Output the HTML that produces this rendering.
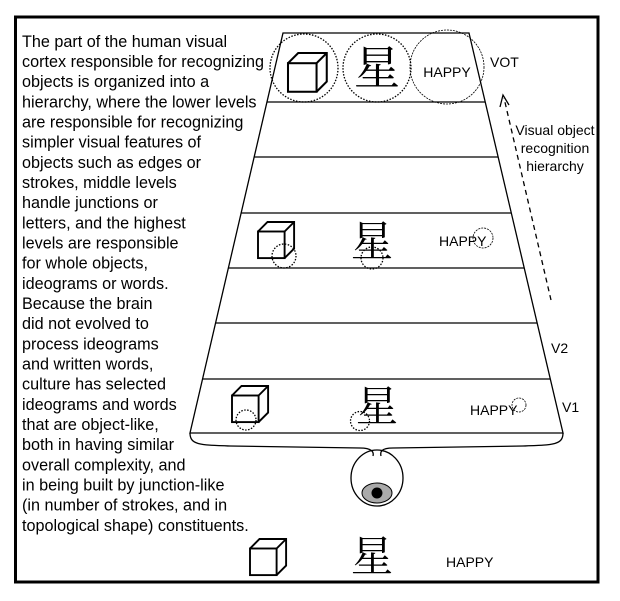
<!DOCTYPE html>
<html><head><meta charset="utf-8"><style>
html,body{margin:0;padding:0;background:#fff;}
svg{display:block;}
text{font-family:"Liberation Sans",Arial,sans-serif;fill:#000;}
.k{font-family:"Noto Serif CJK SC","Noto Sans CJK SC",serif;}
</style></head><body>
<svg width="620" height="601" viewBox="0 0 620 601" xmlns="http://www.w3.org/2000/svg">
<rect x="15.5" y="17" width="582.5" height="565" fill="none" stroke="#000" stroke-width="3"/>
<g font-size="16.2">
<text x="22" y="47">The part of the human visual</text>
<text x="22" y="67">cortex responsible for recognizing</text>
<text x="22" y="87">objects is organized into a</text>
<text x="22" y="107.5">hierarchy, where the lower levels</text>
<text x="22" y="127.5">are responsible for recognizing</text>
<text x="22" y="147.5">simpler visual features of</text>
<text x="22" y="168">objects such as edges or</text>
<text x="22" y="188">strokes, middle levels</text>
<text x="22" y="208">handle junctions or</text>
<text x="22" y="228.5">letters, and the highest</text>
<text x="22" y="248.5">levels are responsible</text>
<text x="22" y="268.5">for whole objects,</text>
<text x="22" y="289">ideograms or words.</text>
<text x="22" y="309">Because the brain</text>
<text x="22" y="329">did not evolved to</text>
<text x="22" y="349.5">process ideograms</text>
<text x="22" y="369.5">and written words,</text>
<text x="22" y="389.5">culture has selected</text>
<text x="22" y="410">ideograms and words</text>
<text x="22" y="430">that are object-like,</text>
<text x="22" y="450">both in having similar</text>
<text x="22" y="470.5">overall complexity, and</text>
<text x="22" y="490.5">in being built by junction-like</text>
<text x="22" y="510.5">(in number of strokes, and in</text>
<text x="22" y="531">topological shape) constituents.</text>
</g>
<g stroke="#000" fill="none" stroke-width="1.3">
<polygon points="283,33 469,33 563,433 190,433"/>
<line x1="266.8" y1="102" x2="485.2" y2="102"/>
<line x1="254" y1="157" x2="498.1" y2="157"/>
<line x1="240.8" y1="213" x2="511.3" y2="213"/>
<line x1="228" y1="268" x2="524.2" y2="268"/>
<line x1="215.2" y1="323" x2="537.1" y2="323"/>
<line x1="202" y1="379" x2="550.3" y2="379"/>
<path d="M190,433 C190,445 200,445 230,446 L360,448 C372,448 374,452 373,456"/>
<path d="M563,433 C563,445 553,445 523,446 L393,448 C381,448 380,452 381,456"/>
<ellipse cx="377" cy="478" rx="26" ry="28"/>
</g>
<ellipse cx="377" cy="493" rx="15" ry="10" fill="#aaa" stroke="#000" stroke-width="1"/>
<circle cx="377" cy="493" r="5.5" fill="#000"/>
<defs>
<g id="cube" fill="none" stroke="#000" stroke-width="2">
<rect x="0" y="10" width="28" height="28"/>
<polyline points="0,10 10,0 38,0 38,28 28,38"/>
<line x1="28" y1="10" x2="38" y2="0"/>
</g>
</defs>
<use href="#cube" transform="translate(288,53) scale(1.02)"/>
<g fill="none" stroke="#000" stroke-width="1.3" stroke-dasharray="1.5,1.5">
<circle cx="304" cy="68" r="34"/>
<circle cx="377" cy="68" r="34"/>
<circle cx="284" cy="256" r="12"/>
<circle cx="372" cy="258" r="11"/>
<circle cx="246" cy="420" r="10"/>
<circle cx="360" cy="421" r="9.5"/>
</g>
<circle cx="447" cy="67" r="37" fill="none" stroke="#000" stroke-width="0.8" stroke-dasharray="2,1"/>
<circle cx="483" cy="238" r="10" fill="none" stroke="#000" stroke-width="0.8" stroke-dasharray="2,1"/>
<circle cx="519" cy="405" r="7" fill="none" stroke="#000" stroke-width="0.8" stroke-dasharray="2,1"/>
<text class="k" x="377" y="84" font-size="46" text-anchor="middle">星</text>
<text x="447" y="77" font-size="14" text-anchor="middle">HAPPY</text>
<use href="#cube" transform="translate(258,222) scale(0.95)"/>
<text class="k" x="372" y="256" font-size="42" text-anchor="middle">星</text>
<text x="439" y="246" font-size="14">HAPPY</text>
<use href="#cube" transform="translate(232,386) scale(0.95)"/>
<text class="k" x="377" y="421" font-size="42" text-anchor="middle">星</text>
<text x="470" y="415" font-size="14">HAPPY</text>
<use href="#cube" transform="translate(250,539) scale(0.95)"/>
<text class="k" x="372" y="571" font-size="42" text-anchor="middle">星</text>
<text x="446" y="567" font-size="14">HAPPY</text>
<text x="490" y="67" font-size="14">VOT</text>
<text x="551" y="353" font-size="14">V2</text>
<text x="562" y="412" font-size="14">V1</text>
<g font-size="14" text-anchor="middle">
<text x="555" y="135">Visual object</text>
<text x="555" y="153">recognition</text>
<text x="555" y="171">hierarchy</text>
</g>
<line x1="551" y1="300" x2="504" y2="98" stroke="#000" stroke-width="1.3" stroke-dasharray="5,4"/>
<polyline points="500,107 503,95 509,105" fill="none" stroke="#000" stroke-width="1.3"/>
</svg>
</body></html>
